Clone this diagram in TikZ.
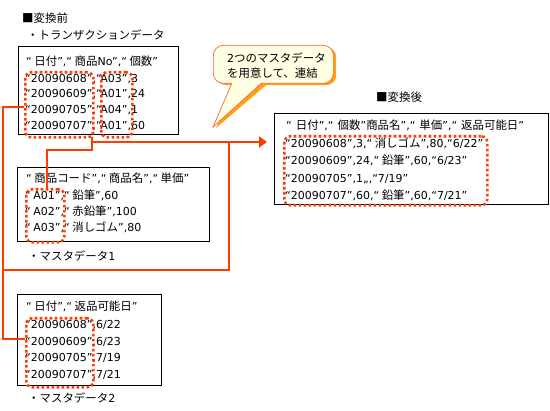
\documentclass[tikz,border=0pt]{standalone}
\usepackage{fontspec}
\setmainfont{DejaVu Sans}
\newfontfamily\jfont{Noto Sans CJK JP}[Scale=1.04]
\newcommand\J[1]{{\jfont #1}}
\newcommand\oq{“\kern2.5pt}
\newcommand\oqq{“\kern4pt}
\usetikzlibrary{arrows.meta}
\definecolor{hl}{RGB}{255,60,0}
\definecolor{bubfill}{RGB}{255,255,228}
\definecolor{bubshadow}{RGB}{255,160,20}
\definecolor{bubline}{RGB}{255,100,60}
\tikzset{
  box/.style={draw=black, line width=0.9pt, anchor=north west, inner sep=0pt},
  txt/.style={anchor=base west, inner sep=0pt, font=\fontsize{11}{14}\selectfont},
  dotbox/.style={draw=hl, line width=2.6pt, dash pattern=on 2.6pt off 2.4pt, rounded corners=6pt, anchor=north west, inner sep=0pt},
  link/.style={draw=hl, line width=2.4pt},
  bubshape/.style={rounded corners=10pt, minimum width=120pt, minimum height=38pt, anchor=north west, inner sep=0pt},
}
\begin{document}
\begin{tikzpicture}[x=1pt,y=-1pt]
\useasboundingbox (0,0) rectangle (550,411);
% headings
\node[txt] (h1) at (22,23) {\J{■変換前}};
\node[txt] (s1) at (27,40) {\J{・トランザクションデータ}};
% box 1
\node[box, minimum width=160pt, minimum height=88pt] (b1) at (18,46) {};
\node[txt] (t1h) at (26,66) {\oq\J{日付}”,\oq\J{商品}No”,\oq\J{個数}”};
\node[txt] (t1a) at (25,82.5) {“20090608”,“A03”,3};
\node[txt] (t1b) at (25,98) {“20090609”,“A01”,24};
\node[txt] (t1c) at (25,114) {“20090705”,“A04”,1};
\node[txt] (t1d) at (25,129.5) {“20090707”,“A01”,60};
\node[dotbox, minimum width=68pt, minimum height=65pt] (d1) at (24,71) {};
\node[dotbox, minimum width=31pt, minimum height=65pt] (d1b) at (100,71) {};
% box 2
\node[box, minimum width=192pt, minimum height=74pt] (b2) at (17,167) {};
\node[txt] (t2h) at (26,183) {\oq\J{商品コード}”,\oq\J{商品名}”,\oq\J{単価}”};
\node[txt] (t2a) at (25,200) {\oq A01”,\oq\J{鉛筆}”,60};
\node[txt] (t2b) at (25,216) {\oq A02”,\oq\J{赤鉛筆}”,100};
\node[txt] (t2c) at (25,232) {\oq A03”,\oq\J{消しゴム}”,80};
\node[dotbox, minimum width=38pt, minimum height=53pt] (d2) at (25,188) {};
\node[txt] (s2) at (28,261) {\J{・マスタデータ}1};
% box 3
\node[box, minimum width=144pt, minimum height=91pt] (b3) at (17,294) {};
\node[txt] (t3h) at (26,311) {\oq\J{日付}”,\oq\J{返品可能日}”};
\node[txt] (t3a) at (25,329) {“20090608”,6/22};
\node[txt] (t3b) at (25,345.5) {“20090609”,6/23};
\node[txt] (t3c) at (25,362) {“20090705”,7/19};
\node[txt] (t3d) at (25,379) {“20090707”,7/21};
\node[dotbox, minimum width=67pt, minimum height=69pt] (d3) at (25,317) {};
\node[txt] (s3) at (28,403) {\J{・マスタデータ}2};
% result
\node[txt] (h2) at (376,102) {\J{■変換後}};
\node[box, minimum width=274pt, minimum height=91pt] (b4) at (274,113) {};
\node[txt] (t4h) at (286,130) {\oqq\J{日付}”,\oqq\J{個数}”\J{商品名}”,\oqq\J{単価}”,\oqq\J{返品可能日}”};
\node[txt] (t4a) at (285,148) {“20090608”,3,\oq\J{消しゴム}”,80,“6/22”};
\node[txt] (t4b) at (285,165) {“20090609”,24,\oq\J{鉛筆}”,60,“6/23”};
\node[txt] (t4c) at (285,182.5) {“20090705”,1,,,“7/19”};
\node[txt] (t4d) at (285,200) {“20090707”,60,\oq\J{鉛筆}”,60,“7/21”};
\node[dotbox, minimum width=203pt, minimum height=69pt] (d4) at (283,135) {};
% connectors
\coordinate (jA) at (3,107);
\coordinate (jB) at (3,339);
\coordinate (jC) at (3,270);
\coordinate (jD) at (229,142);
\coordinate (jE) at (92,137);
\coordinate (jF) at (47,150);
\draw[link] (d1.west |- jA) -- (jA) -- (jB) -- (d3.west |- jB);
\draw[link] (jC) -| (jD);
\draw[link] (d2.north -| jF) -- (jF) -| (jE);
\draw[link, -{Triangle[length=8pt,width=11pt]}, shorten >=7pt] (jE |- jD) -- (b4.west |- jD);
% callout
\node[bubshape, fill=bubshadow] (bubs) at (216,47) {};
\fill[bubshadow] (bubs.south west) ++(19,-2) -- ++(33,0) -- (216,128) -- cycle;
\node[bubshape, fill=bubfill, draw=bubline, line width=0.7pt] (bub) at (213,45) {};
\fill[bubfill] (232,82) -- (262,82) -- (213,127) -- cycle;
\draw[bubline, line width=0.7pt] (232,83) -- (213,127) -- (262,83);
\node[txt] (bt1) at (227,63) {2\J{つのマスタデータ}};
\node[txt] (bt2) at (227,78) {\J{を用意して、連結}};
\end{tikzpicture}
\end{document}
